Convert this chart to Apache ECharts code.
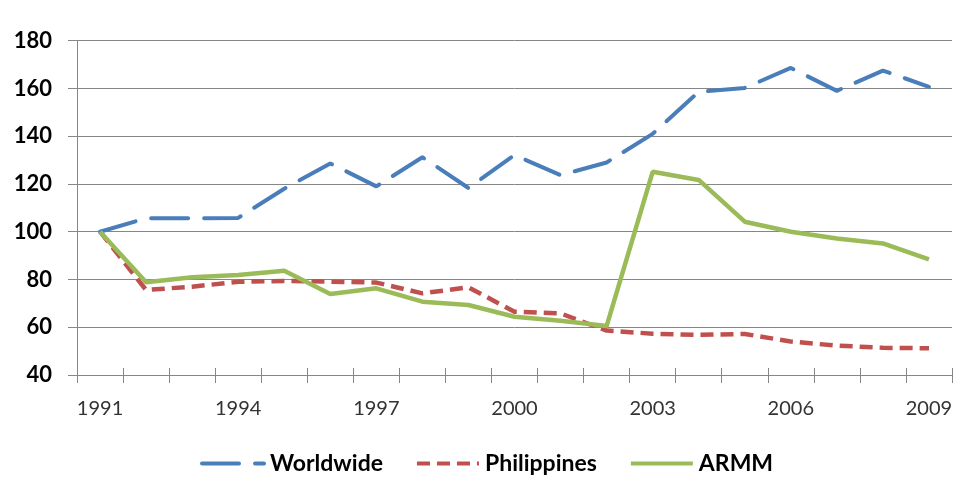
<!DOCTYPE html>
<html>
<head>
<meta charset="utf-8">
<script src="https://cdn.jsdelivr.net/npm/echarts@6/dist/echarts.min.js"></script>
<style>
  html, body { margin: 0; padding: 0; background: #ffffff; }
  #chart { width: 962px; height: 484px; }
</style>
</head>
<body>
<div id="chart"></div>
<script>
// Index values (1991 = 100)
const years = ['1991','1992','1993','1994','1995','1996','1997','1998','1999','2000',
               '2001','2002','2003','2004','2005','2006','2007','2008','2009'];
const worldwide = [100, 105.6, 105.6, 105.8, 118, 128.6, 119, 131.2, 118.3, 132.1,
                   123.7, 129, 141, 158.6, 160.2, 168.6, 159, 167.5, 160.7];
const philippines = [100, 75.6, 77, 79, 79.4, 79.1, 78.7, 74.2, 76.7, 66.5,
                     65.8, 58.6, 57.3, 56.8, 57.2, 54, 52.3, 51.4, 51.2];
const armm = [100, 78.8, 80.9, 81.9, 83.7, 73.9, 76.3, 70.7, 69.3, 64.4,
              62.7, 60.5, 125.1, 121.7, 104.2, 100, 97.2, 95.1, 88.4];
const yTicks = { min: 40, max: 180, step: 20 };

const axisGray = '#868686';
const font = 'Lato, "Open Sans", sans-serif';

const chart = echarts.init(document.getElementById('chart'), null, { renderer: 'canvas' });

chart.setOption({
  backgroundColor: '#ffffff',
  animation: false,
  grid: { left: 77, right: 10, top: 40.7, bottom: 109, containLabel: false },
  legend: {
    left: 195,
    top: 447,
    itemWidth: 62,
    itemHeight: 14,
    itemGap: 32,
    itemStyle: { opacity: 0 },
    lineStyle: { width: 4 },
    textStyle: { fontFamily: font, fontWeight: 'bold', fontSize: 23, color: '#000000', padding: [0, 0, 0, 1] },
    data: ['Worldwide', 'Philippines', 'ARMM']
  },
  xAxis: [
    {
      type: 'category',
      data: years,
      boundaryGap: true,
      axisLine: { lineStyle: { color: axisGray, width: 1 } },
      axisTick: { show: true, interval: 0, length: 8, lineStyle: { color: axisGray } },
      axisLabel: {
        interval: 2,
        margin: 24,
        fontFamily: font,
        fontSize: 20,
        color: '#333333'
      },
      splitLine: { show: false }
    },
    {
      // inward half of the cross tick marks
      type: 'category',
      data: years,
      position: 'bottom',
      boundaryGap: true,
      axisLine: { show: false },
      axisTick: { show: true, inside: true, interval: 0, length: 7, lineStyle: { color: axisGray } },
      axisLabel: { show: false },
      splitLine: { show: false }
    }
  ],
  yAxis: {
    type: 'value',
    min: yTicks.min,
    max: yTicks.max,
    interval: yTicks.step,
    axisLine: { show: true, lineStyle: { color: axisGray, width: 1 } },
    axisTick: { show: true, length: 9, lineStyle: { color: axisGray } },
    axisLabel: {
      margin: 25,
      fontFamily: font,
      fontWeight: 'bold',
      fontSize: 22,
      color: '#000000'
    },
    splitLine: { show: true, lineStyle: { color: axisGray, width: 1 } }
  },
  series: [
    {
      name: 'Worldwide',
      type: 'line',
      data: worldwide,
      showSymbol: false,
      symbol: 'none',
      color: '#4A7EBB',
      lineStyle: { color: '#4A7EBB', width: 4, type: [37, 16], cap: 'round' },
      z: 3
    },
    {
      name: 'Philippines',
      type: 'line',
      data: philippines,
      showSymbol: false,
      symbol: 'none',
      color: '#C0504D',
      lineStyle: { color: '#C0504D', width: 4.5, type: [13, 7] },
      z: 2
    },
    {
      name: 'ARMM',
      type: 'line',
      data: armm,
      showSymbol: false,
      symbol: 'none',
      color: '#9BBB59',
      lineStyle: { color: '#9BBB59', width: 4.5 },
      z: 4
    }
  ]
});
</script>
</body>
</html>
